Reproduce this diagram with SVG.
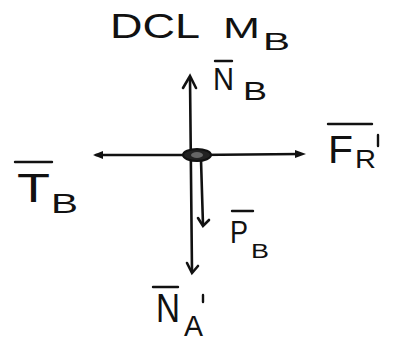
<svg xmlns="http://www.w3.org/2000/svg" width="394" height="343" viewBox="0 0 394 343">
<style>
.t{font-family:"Liberation Sans",Arial,sans-serif;fill:#111;}
.ln{stroke:#111;stroke-width:2.6;fill:none;stroke-linecap:round;}
.bar{stroke:#111;stroke-width:2.4;stroke-linecap:round;}
</style>
<rect width="394" height="343" fill="#fff"/>
<g id="title">
<text class="t" x="110" y="38" font-size="35" textLength="90" lengthAdjust="spacingAndGlyphs">DCL</text>
<text class="t" x="223" y="38" font-size="29" textLength="37" lengthAdjust="spacingAndGlyphs">M</text>
<text class="t" x="263" y="50" font-size="24" textLength="27" lengthAdjust="spacingAndGlyphs">B</text>
</g>
<g id="connectors">
<line class="ln" x1="192" y1="272" x2="190" y2="78"/>
<path class="ln" d="M183,88 L190,76 L196,88"/>
<line class="ln" x1="193" y1="155" x2="96" y2="155"/>
<path d="M93,155 L103,151 L103,159 Z" fill="#111"/>
<line class="ln" x1="195" y1="155" x2="300" y2="154"/>
<path d="M306,154 L295,150 L295,158 Z" fill="#111"/>
<line class="ln" x1="201" y1="160" x2="203" y2="225"/>
<path class="ln" d="M198,218 L203,226 L209,220"/>
<path class="ln" d="M187,263 L192,273 L198,266"/>
</g>
<g id="node-MB">
<ellipse cx="197" cy="155" rx="14" ry="6" fill="#222" stroke="#111" stroke-width="2"/>
<ellipse cx="197" cy="155" rx="6" ry="3" fill="#666"/>
</g>
<g id="label-NB">
<line class="bar" x1="215" y1="61" x2="232" y2="61"/>
<text class="t" x="213" y="90" font-size="31" textLength="21" lengthAdjust="spacingAndGlyphs">N</text>
<text class="t" x="243" y="100" font-size="26" textLength="24" lengthAdjust="spacingAndGlyphs">B</text>
</g>
<g id="label-TB">
<line class="bar" x1="15" y1="162" x2="52" y2="162"/>
<text class="t" x="17" y="202" font-size="40" textLength="33" lengthAdjust="spacingAndGlyphs">T</text>
<text class="t" x="51" y="213" font-size="28" textLength="27" lengthAdjust="spacingAndGlyphs">B</text>
</g>
<g id="label-FR">
<line class="bar" x1="328" y1="124" x2="372" y2="124"/>
<text class="t" x="328" y="163" font-size="39" textLength="25" lengthAdjust="spacingAndGlyphs">F</text>
<text class="t" x="355" y="168" font-size="25" textLength="21" lengthAdjust="spacingAndGlyphs">R</text>
<line class="bar" x1="378" y1="135" x2="378" y2="146"/>
</g>
<g id="label-PB">
<line class="bar" x1="232" y1="211" x2="253" y2="211"/>
<text class="t" x="230" y="243" font-size="32" textLength="18" lengthAdjust="spacingAndGlyphs">P</text>
<text class="t" x="251" y="258" font-size="20" textLength="18" lengthAdjust="spacingAndGlyphs">B</text>
</g>
<g id="label-NA">
<line class="bar" x1="153" y1="287" x2="178" y2="287"/>
<text class="t" x="156" y="322" font-size="41" textLength="24" lengthAdjust="spacingAndGlyphs">N</text>
<text class="t" x="184" y="336" font-size="29" textLength="19" lengthAdjust="spacingAndGlyphs">A</text>
<line class="bar" x1="203" y1="295" x2="203" y2="302"/>
</g>
</svg>
